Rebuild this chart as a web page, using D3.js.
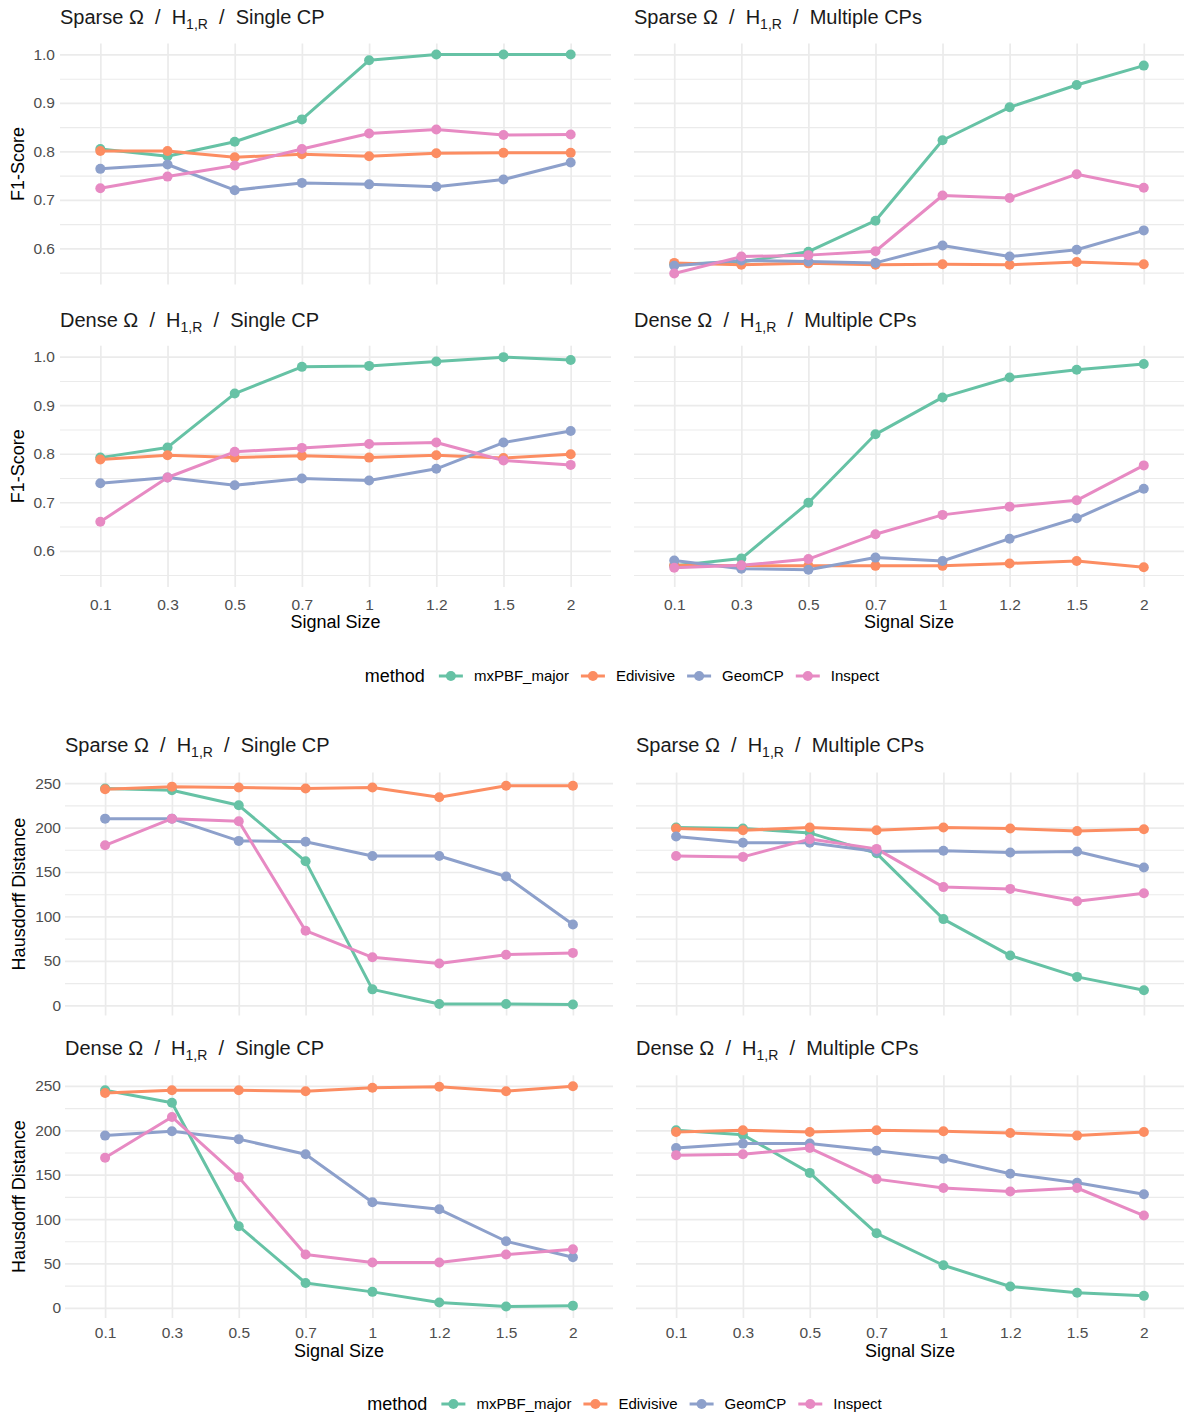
<!DOCTYPE html>
<html>
<head>
<meta charset="utf-8">
<script src="https://cdn.jsdelivr.net/npm/d3@7"></script>
<style>
  body { margin: 0; background: #fff; }
  svg text { font-family: "Liberation Sans", Arial, Helvetica, sans-serif; }
</style>
</head>
<body>
<svg id="chart" width="1184" height="1414"></svg>
<script>
// ---- categories ----
const signalSizes = ["0.1", "0.3", "0.5", "0.7", "1", "1.2", "1.5", "2"];
const methods = ["mxPBF_major", "Edivisive", "GeomCP", "Inspect"];
const methodColors = ["#66C2A5", "#FC8D62", "#8DA0CB", "#E78AC3"];

// ---- F1-Score (rows: mxPBF_major, Edivisive, GeomCP, Inspect) ----
const f1SparseSingle = [
  [0.805, 0.790, 0.820, 0.866, 0.988, 1.000, 1.000, 1.000],
  [0.801, 0.801, 0.788, 0.794, 0.790, 0.796, 0.797, 0.797],
  [0.764, 0.773, 0.720, 0.735, 0.732, 0.727, 0.742, 0.777],
  [0.724, 0.748, 0.771, 0.805, 0.837, 0.845, 0.834, 0.835]
];
const f1SparseMultiple = [
  [0.567, 0.572, 0.593, 0.657, 0.823, 0.891, 0.937, 0.977],
  [0.570, 0.566, 0.569, 0.566, 0.567, 0.566, 0.572, 0.567],
  [0.564, 0.575, 0.573, 0.570, 0.606, 0.583, 0.597, 0.637],
  [0.548, 0.583, 0.586, 0.594, 0.709, 0.704, 0.753, 0.725]
];
const f1DenseSingle = [
  [0.792, 0.813, 0.924, 0.979, 0.981, 0.990, 0.999, 0.993],
  [0.788, 0.797, 0.792, 0.796, 0.792, 0.797, 0.791, 0.799],
  [0.739, 0.751, 0.735, 0.749, 0.745, 0.769, 0.823, 0.847],
  [0.660, 0.751, 0.804, 0.812, 0.820, 0.823, 0.786, 0.777]
];
const f1DenseMultiple = [
  [0.569, 0.584, 0.699, 0.840, 0.916, 0.957, 0.973, 0.985],
  [0.570, 0.569, 0.569, 0.569, 0.569, 0.574, 0.579, 0.566],
  [0.580, 0.563, 0.561, 0.586, 0.579, 0.625, 0.667, 0.728],
  [0.565, 0.570, 0.583, 0.634, 0.674, 0.691, 0.704, 0.776]
];

// ---- Hausdorff Distance ----
const hdSparseSingle = [
  [244, 242, 225, 162, 18, 1.5, 1.5, 1],
  [243, 246, 245, 244, 245, 234, 247, 247],
  [210, 210, 185, 184, 168, 168, 145, 91],
  [180, 210, 207, 84, 54, 47, 57, 59]
];
const hdSparseMultiple = [
  [200, 199, 194, 171, 97, 56, 32, 17],
  [199, 197, 200, 197, 200, 199, 196, 198],
  [190, 183, 183, 173, 174, 172, 173, 155],
  [168, 167, 187, 176, 133, 131, 117, 126]
];
const hdDenseSingle = [
  [245, 231, 92, 28, 18, 6, 1.5, 2.5],
  [242, 245, 245, 244, 248, 249, 244, 249.5],
  [194, 199, 190, 173, 119, 111, 75, 57],
  [169, 215, 147, 60, 51, 51, 60, 66]
];
const hdDenseMultiple = [
  [200, 195, 152, 84, 48, 24, 17, 13.5],
  [198, 200, 198, 200, 199, 197, 194, 198],
  [180, 185, 185, 177, 168, 151, 141, 128],
  [172, 173, 180, 145, 135, 131, 135, 104]
];

// ---- facet labels & ticks ----
const panelDensity = ["Sparse", "Sparse", "Dense", "Dense"];
const panelCP = ["Single CP", "Multiple CPs", "Single CP", "Multiple CPs"];
const f1MajorTicks = [0.6, 0.7, 0.8, 0.9, 1.0];
const f1MinorTicks = [0.55, 0.65, 0.75, 0.85, 0.95];
const hdMajorTicks = [0, 50, 100, 150, 200, 250];
const hdMinorTicks = [25, 75, 125, 175, 225];

// ---- drawing ----
const svg = d3.select("#chart");
const GRID = "#EBEBEB";
const LINE_W = 3;
const PT_R = 5;
const TICK_FS = 15.5;
const NBSP2 = "\u00A0\u00A0";

function stripTitle(g, x, y, density, cp) {
  const t = g.append("text")
    .attr("x", x).attr("y", y)
    .attr("font-size", 20).attr("fill", "#1A1A1A");
  t.append("tspan").text(density + " \u03A9" + NBSP2 + "/" + NBSP2 + "H");
  t.append("tspan").attr("font-size", 14).attr("dy", 4.5).text("1,R");
  t.append("tspan").attr("dy", -4.5).text(NBSP2 + "/" + NBSP2 + cp);
}

function drawFigure(fig) {
  const all = fig.panels.flatMap(p => p.flat());
  const [lo, hi] = d3.extent(all);
  const pad = (hi - lo) * 0.05;
  const domain = [lo - pad, hi + pad];

  fig.panels.forEach((data, i) => {
    const col = i % 2, row = Math.floor(i / 2);
    const [x0, x1] = fig.colsX[col];
    const [y0, y1] = fig.rowsY[row];
    const x = d3.scalePoint().domain(signalSizes).range([x0, x1]).padding(0.6);
    const y = d3.scaleLinear().domain(domain).range([y1, y0]);
    const g = svg.append("g");

    // minor horizontal grid
    g.append("g")
      .attr("transform", `translate(${x0},0)`)
      .call(d3.axisLeft(y).tickValues(fig.minorTicks).tickSize(-(x1 - x0)).tickFormat(""))
      .call(a => a.select(".domain").remove())
      .call(a => a.selectAll("line").attr("stroke", GRID).attr("stroke-width", 1.1));
    // major horizontal grid
    g.append("g")
      .attr("transform", `translate(${x0},0)`)
      .call(d3.axisLeft(y).tickValues(fig.majorTicks).tickSize(-(x1 - x0)).tickFormat(""))
      .call(a => a.select(".domain").remove())
      .call(a => a.selectAll("line").attr("stroke", GRID).attr("stroke-width", 1.7));
    // vertical grid
    g.append("g")
      .attr("transform", `translate(0,${y1})`)
      .call(d3.axisBottom(x).tickSize(-(y1 - y0)).tickFormat(""))
      .call(a => a.select(".domain").remove())
      .call(a => a.selectAll("line").attr("stroke", GRID).attr("stroke-width", 1.7));

    // series lines
    const line = d3.line().x((d, k) => x(signalSizes[k])).y(d => y(d));
    data.forEach((vals, m) => {
      g.append("path")
        .attr("d", line(vals))
        .attr("fill", "none")
        .attr("stroke", methodColors[m])
        .attr("stroke-width", LINE_W)
        .attr("stroke-linejoin", "round");
    });
    // series points
    data.forEach((vals, m) => {
      g.selectAll(null).data(vals).join("circle")
        .attr("cx", (d, k) => x(signalSizes[k]))
        .attr("cy", d => y(d))
        .attr("r", PT_R)
        .attr("fill", methodColors[m]);
    });

    // facet strip label
    stripTitle(g, x0, fig.titleY[row], panelDensity[i], panelCP[i]);

    // y axis labels (left column only)
    if (col === 0) {
      g.append("g")
        .attr("transform", `translate(${x0},0)`)
        .call(d3.axisLeft(y).tickValues(fig.majorTicks).tickSize(0).tickPadding(x0 - fig.yLabelRight).tickFormat(fig.format))
        .call(a => a.select(".domain").remove())
        .call(a => a.selectAll("text").attr("font-size", TICK_FS).attr("fill", "#4D4D4D")
          .attr("font-family", null));
      g.append("text")
        .attr("transform", `translate(${fig.yTitleX},${(y0 + y1) / 2}) rotate(-90)`)
        .attr("text-anchor", "middle")
        .attr("font-size", 18).attr("fill", "#000")
        .text(fig.yTitle);
    }
    // x axis labels (bottom row only)
    if (row === 1) {
      g.append("g")
        .attr("transform", `translate(0,${fig.xLabelY})`)
        .call(d3.axisBottom(x).tickSize(0).tickPadding(0))
        .call(a => a.select(".domain").remove())
        .call(a => a.selectAll("text").attr("dy", null).attr("y", 0)
          .attr("font-size", TICK_FS).attr("fill", "#4D4D4D").attr("font-family", null));
      g.append("text")
        .attr("x", (x0 + x1) / 2).attr("y", fig.xTitleY)
        .attr("text-anchor", "middle")
        .attr("font-size", 18).attr("fill", "#000")
        .text("Signal Size");
    }
  });

  // legend
  const lg = svg.append("g");
  const ly = fig.legendY;
  const title = lg.append("text").attr("x", 0).attr("y", ly).attr("dy", "0.35em")
    .attr("font-size", 18).attr("fill", "#000").text("method");
  let cx = title.node().getComputedTextLength() + 14;
  methods.forEach((m, i) => {
    lg.append("line").attr("x1", cx).attr("x2", cx + 24).attr("y1", ly).attr("y2", ly)
      .attr("stroke", methodColors[i]).attr("stroke-width", LINE_W);
    lg.append("circle").attr("cx", cx + 12).attr("cy", ly).attr("r", PT_R).attr("fill", methodColors[i]);
    const lbl = lg.append("text").attr("x", cx + 35).attr("y", ly).attr("dy", "0.35em")
      .attr("font-size", 15).attr("fill", "#000").text(m);
    cx += 35 + lbl.node().getComputedTextLength() + 12;
  });
  const total = cx - 12;
  const centre = (fig.colsX[0][0] + fig.colsX[1][1]) / 2;
  lg.attr("transform", `translate(${centre - total / 2},0)`);
}

// F1-Score figure
drawFigure({
  panels: [f1SparseSingle, f1SparseMultiple, f1DenseSingle, f1DenseMultiple],
  colsX: [[60, 611], [634, 1184]],
  rowsY: [[43.5, 284.5], [345.7, 587]],
  titleY: [24, 327],
  majorTicks: f1MajorTicks,
  minorTicks: f1MinorTicks,
  format: d3.format(".1f"),
  yLabelRight: 55,
  yTitle: "F1-Score",
  yTitleX: 24,
  xLabelY: 610,
  xTitleY: 628,
  legendY: 676
});

// Hausdorff Distance figure
drawFigure({
  panels: [hdSparseSingle, hdSparseMultiple, hdDenseSingle, hdDenseMultiple],
  colsX: [[65, 613], [636, 1184]],
  rowsY: [[772.5, 1015.5], [1075.3, 1318]],
  titleY: [752, 1055],
  majorTicks: hdMajorTicks,
  minorTicks: hdMinorTicks,
  format: d3.format("d"),
  yLabelRight: 61,
  yTitle: "Hausdorff Distance",
  yTitleX: 25,
  xLabelY: 1338,
  xTitleY: 1357,
  legendY: 1404
});
</script>
</body>
</html>
